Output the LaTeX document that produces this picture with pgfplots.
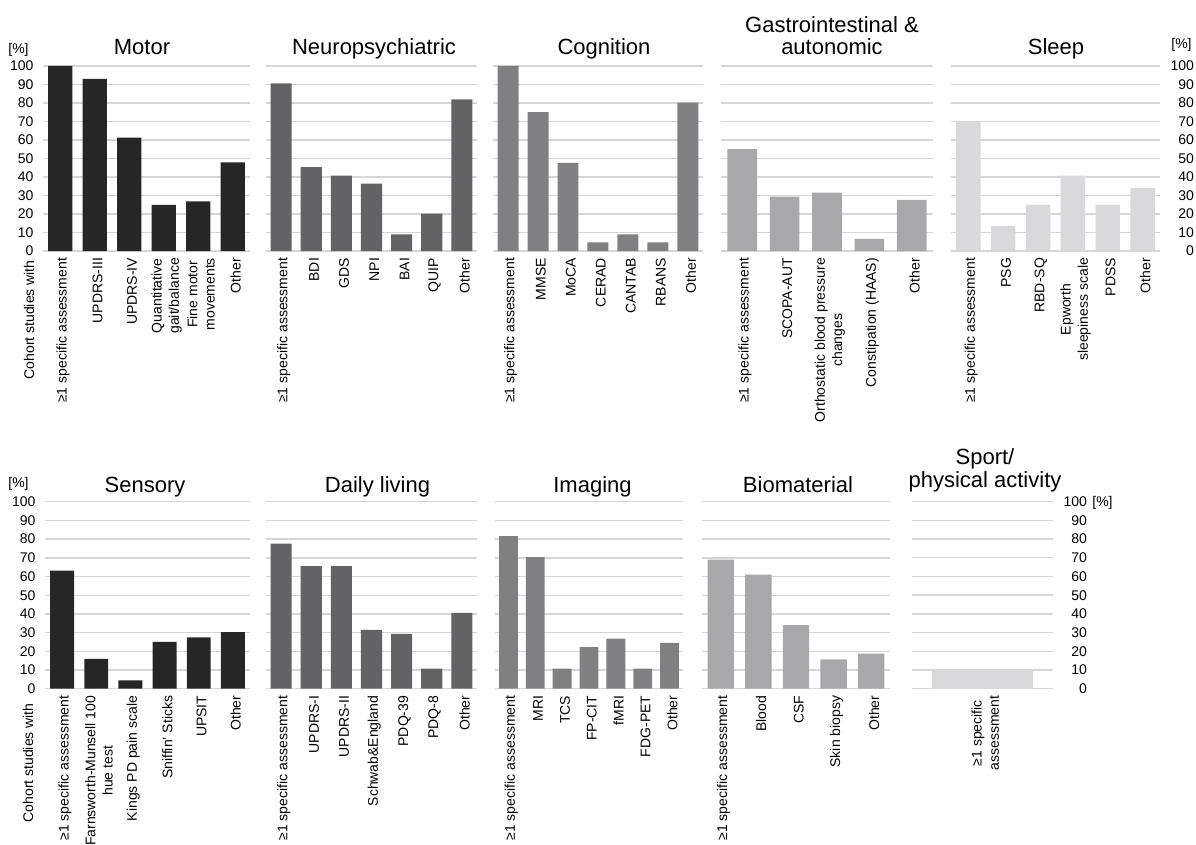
\documentclass[border=0pt]{standalone}
\usepackage{fontspec}
\setmainfont{Liberation Sans}
\usepackage{pgfplots}
\pgfplotsset{compat=1.18}
\definecolor{cA}{HTML}{262626}
\definecolor{cB}{HTML}{636365}
\definecolor{cC}{HTML}{808082}
\definecolor{cD}{HTML}{A8A8AA}
\definecolor{cE}{HTML}{D9D9DB}
\definecolor{gridc}{HTML}{D6D6D6}
\newcommand{\labf}{\fontsize{7}{8.6}\selectfont}
\newcommand{\tickf}{\fontsize{7}{8}\selectfont}
\newcommand{\titf}{\fontsize{11}{12.5}\selectfont}
\pgfplotsset{
  panel/.style={
    scale only axis, ymin=0, ymax=100, ytick={0,10,...,100},
    enlargelimits=false,
    ymajorgrids, grid style={draw=gridc, line width=0.7pt},
    axis line style={draw=none}, major tick length=0pt,
    ybar, bar width=0.7, xtick=data,
    xticklabel style={rotate=90, anchor=east, font=\labf, align=center, yshift=-1.4pt},
    yticklabel style={font=\tickf},
    /pgf/number format/assume math mode=true,
    yticklabels={},
  },
  leftlab/.style={yticklabels={0,10,20,30,40,50,60,70,80,90,100}, yticklabel style={xshift=-1.2pt}},
  rightlab/.style={yticklabel pos=right, yticklabels={0,10,20,30,40,50,60,70,80,90,100}, yticklabel style={anchor=east, xshift=20.5pt}},
  top/.style={height=92.5pt},
  bot/.style={height=93.5pt},
}
\begin{document}
\begin{tikzpicture}
\useasboundingbox (0,0) rectangle (598pt,-422.5pt);

% ---------------- Top row ----------------
\begin{axis}[panel, top, leftlab, at={(21.5pt,-125.5pt)}, anchor=south west, width=103.5pt,
  xmin=-0.5, xmax=5.5,
  xticklabels={{≥1 specific assessment}, UPDRS-III, UPDRS-IV, {Quantitative\\gait/balance}, {Fine motor\\movements}, Other}]
\addplot[fill=cA, draw=none] coordinates {(0,100) (1,93) (2,61.3) (3,24.9) (4,26.8) (5,47.9)};
\end{axis}

\begin{axis}[panel, top, at={(133pt,-125.5pt)}, anchor=south west, width=105.5pt,
  xmin=-0.5, xmax=6.5,
  xticklabels={{≥1 specific assessment}, BDI, GDS, NPI, BAI, QUIP, Other}]
\addplot[fill=cB, draw=none] coordinates {(0,90.6) (1,45.4) (2,40.7) (3,36.4) (4,9) (5,20.2) (6,82)};
\end{axis}

\begin{axis}[panel, top, at={(246.5pt,-125.5pt)}, anchor=south west, width=105pt,
  xmin=-0.5, xmax=6.5,
  xticklabels={{≥1 specific assessment}, MMSE, MoCA, CERAD, CANTAB, RBANS, Other}]
\addplot[fill=cC, draw=none] coordinates {(0,100) (1,75) (2,47.7) (3,4.7) (4,9) (5,4.7) (6,80.2)};
\end{axis}

\begin{axis}[panel, top, at={(360.5pt,-125.5pt)}, anchor=south west, width=106pt,
  xmin=-0.5, xmax=4.5,
  xticklabels={{≥1 specific assessment}, SCOPA-AUT, {Orthostatic blood pressure\\changes}, {Constipation (HAAS)}, Other}]
\addplot[fill=cD, draw=none] coordinates {(0,55) (1,29.4) (2,31.5) (3,6.5) (4,27.7)};
\end{axis}

\begin{axis}[panel, top, rightlab, at={(475.5pt,-125.5pt)}, anchor=south west, width=104.5pt,
  xmin=-0.5, xmax=5.5,
  xticklabels={{≥1 specific assessment}, PSG, RBD-SQ, {Epworth\\sleepiness scale}, PDSS, Other}]
\addplot[fill=cE, draw=none] coordinates {(0,70) (1,13.6) (2,25) (3,40.8) (4,25) (5,34)};
\end{axis}

% ---------------- Bottom row ----------------
\begin{axis}[panel, bot, leftlab, at={(22.5pt,-344.35pt)}, anchor=south west, width=102.5pt,
  xmin=-0.5, xmax=5.5,
  xticklabels={{≥1 specific assessment}, {Farnsworth-Munsell 100\\hue test}, {Kings PD pain scale}, {Sniffin' Sticks}, UPSIT, Other}]
\addplot[fill=cA, draw=none] coordinates {(0,63.1) (1,16) (2,4.5) (3,25.1) (4,27.5) (5,30.3)};
\end{axis}

\begin{axis}[panel, bot, at={(133pt,-344.35pt)}, anchor=south west, width=105.5pt,
  xmin=-0.5, xmax=6.5,
  xticklabels={{≥1 specific assessment}, UPDRS-I, UPDRS-II, Schwab\&England, PDQ-39, PDQ-8, Other}]
\addplot[fill=cB, draw=none] coordinates {(0,77.6) (1,65.5) (2,65.5) (3,31.5) (4,29.3) (5,10.7) (6,40.6)};
\end{axis}

\begin{axis}[panel, bot, at={(247.5pt,-344.35pt)}, anchor=south west, width=94pt,
  xmin=-0.5, xmax=6.5,
  xticklabels={{≥1 specific assessment}, MRI, TCS, FP-CIT, fMRI, FDG-PET, Other}]
\addplot[fill=cC, draw=none] coordinates {(0,81.6) (1,70.3) (2,10.7) (3,22.2) (4,26.8) (5,10.7) (6,24.5)};
\end{axis}

\begin{axis}[panel, bot, at={(351pt,-344.35pt)}, anchor=south west, width=94pt,
  xmin=-0.5, xmax=4.5,
  xticklabels={{≥1 specific assessment}, Blood, CSF, {Skin biopsy}, Other}]
\addplot[fill=cD, draw=none] coordinates {(0,69) (1,61) (2,34) (3,15.7) (4,18.8)};
\end{axis}

\begin{axis}[panel, bot, rightlab, at={(456pt,-344.35pt)}, anchor=south west, width=70.5pt,
  xmin=-0.5, xmax=0.5, bar width=0.72,
  xticklabels={{≥1 specific\\assessment}}]
\addplot[fill=cE, draw=none] coordinates {(0,10.6)};
\end{axis}

% ---------------- Titles and labels ----------------
\node[anchor=base, font=\titf] at (71pt,-27.5pt) {Motor};
\node[anchor=base, font=\titf] at (187pt,-27.5pt) {Neuropsychiatric};
\node[anchor=base, font=\titf] at (302pt,-27.5pt) {Cognition};
\node[anchor=base, font=\titf] at (416pt,-16.5pt) {Gastrointestinal \&};
\node[anchor=base, font=\titf] at (416pt,-27.5pt) {autonomic};
\node[anchor=base, font=\titf] at (528pt,-27.5pt) {Sleep};
\node[anchor=base, font=\titf] at (72.5pt,-246.5pt) {Sensory};
\node[anchor=base, font=\titf] at (188.75pt,-246.5pt) {Daily living};
\node[anchor=base, font=\titf] at (296.25pt,-246.5pt) {Imaging};
\node[anchor=base, font=\titf] at (399pt,-246.5pt) {Biomaterial};
\node[anchor=base, font=\titf] at (492.5pt,-232.5pt) {Sport/};
\node[anchor=base, font=\titf] at (492.5pt,-244pt) {physical activity};

\node[anchor=base west, font=\tickf, inner sep=0pt] at (4pt,-27pt) {[\%]};
\node[anchor=base west, font=\tickf, inner sep=0pt] at (4pt,-244pt) {[\%]};
\node[anchor=base east, font=\tickf, inner sep=0pt] at (596pt,-24.5pt) {[\%]};
\node[anchor=base west, font=\tickf, inner sep=0pt] at (546pt,-253.25pt) {[\%]};

\node[rotate=90, anchor=east, font=\labf, inner sep=0pt] at (14.5pt,-130pt) {Cohort studies with};
\node[rotate=90, anchor=east, font=\labf, inner sep=0pt] at (14pt,-351.5pt) {Cohort studies with};
\end{tikzpicture}
\end{document}
